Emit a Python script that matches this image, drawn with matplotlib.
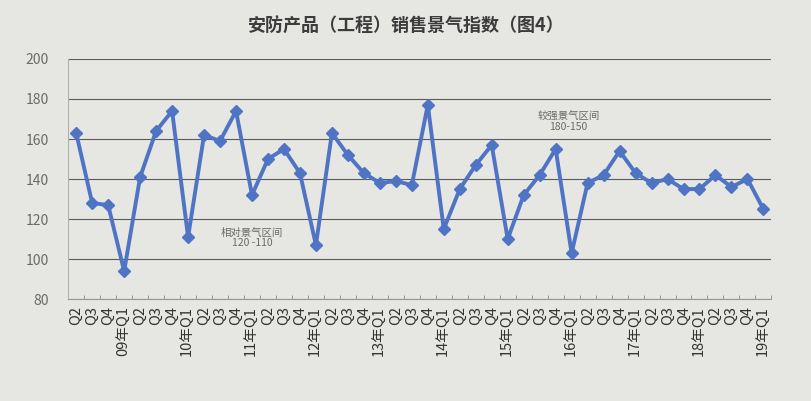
import matplotlib
matplotlib.use("Agg")
from matplotlib import pyplot as plt
import numpy as np

plt.rcParams['font.family'] = ['Noto Sans CJK SC', 'DejaVu Sans']

# quarters from 2008 Q2 to 2019 Q1
quarters = ['Q2', 'Q3', 'Q4']
for yr in range(9, 19):
    quarters += ['%02d年Q1' % yr, 'Q2', 'Q3', 'Q4']
quarters += ['19年Q1']

index_values = [163, 128, 127, 94, 141, 164, 174, 111, 162, 159, 174,
                132, 150, 155, 143, 107, 163, 152, 143, 138, 139, 137,
                177, 115, 135, 147, 157, 110, 132, 142, 155, 103, 138,
                142, 154, 143, 138, 140, 135, 135, 142, 136, 140, 125]

y_ticks = [80, 100, 120, 140, 160, 180, 200]

bg = '#e6e6e3'
fig = plt.figure(figsize=(8.12, 4.01), dpi=100, facecolor=bg)
ax = fig.add_axes([0.084, 0.254, 0.866, 0.599])
ax.set_facecolor(bg)

x = np.arange(len(quarters))
ax.plot(x, index_values, color='#4f74c4', lw=2.8, marker='D', ms=6.5,
        markerfacecolor='#4f74c4', markeredgecolor='#4f74c4', zorder=3)

ax.set_xlim(-0.5, len(quarters) - 0.5)
ax.set_ylim(80, 200)
ax.set_yticks(y_ticks)
ax.yaxis.grid(True, color='#5a5a5a', lw=0.8)
ax.set_axisbelow(True)
ax.tick_params(axis='y', length=0, pad=14, labelsize=10, labelcolor='#6a6a6a')

ax.set_xticks(x)
ax.set_xticklabels(quarters, rotation=90, fontsize=10.5, color='#333333')
ax.set_xticks(np.arange(-0.5, len(quarters), 1), minor=True)
ax.tick_params(axis='x', which='major', length=0, pad=5)
ax.tick_params(axis='x', which='minor', length=3, color='#888888', direction='in')

for s in ['top', 'right']:
    ax.spines[s].set_visible(False)
ax.spines['left'].set_color('#b0b0b0')
ax.spines['bottom'].set_color('#999999')

ax.text(11.0, 110.5, '相对景气区间\n120 -110', fontsize=7.5, color='#6a6a6a',
        ha='center', va='center', linespacing=1.0)
ax.text(30.8, 168.5, '较强景气区间\n180-150', fontsize=7.5, color='#6a6a6a',
        ha='center', va='center', linespacing=1.0)

fig.text(0.5, 0.935, '安防产品（工程）销售景气指数（图4）', fontsize=13,
         fontweight='bold', color='#3c3c3c', ha='center', va='center')

fig.savefig('out.png', dpi=100, facecolor=bg)
